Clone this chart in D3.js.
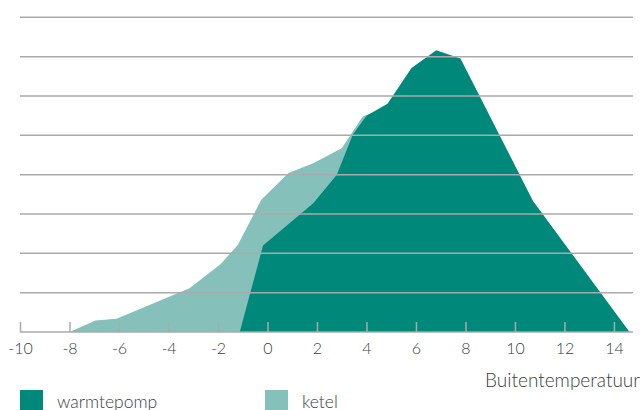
<!DOCTYPE html>
<html>
<head>
<meta charset="utf-8">
<script src="https://cdn.jsdelivr.net/npm/d3@7"></script>
<style>
  body { margin: 0; background: #fff; }
  text { font-family: Lato, "Open Sans", sans-serif; font-weight: 300; fill: #3c3c3c; }
</style>
</head>
<body>
<div id="chart"></div>
<script>
// temperature (°C) and relative share
var pumpTemp  = [-1.12, -0.18, 1.85, 2.8, 3.45, 4.0, 4.85, 5.82, 6.82, 7.8, 10.73, 14.63];
var pumpValue = [0, 2.2, 3.27, 4.0, 5.02, 5.5, 5.8, 6.71, 7.16, 6.95, 3.33, 0];

var boilerTemp  = [-8, -6.95, -6.1, -3.15, -1.9, -1.2, -0.25, 0.85, 1.85, 3.0, 3.85, 4.4, 4.85, 5.8, 6.8, 7.8, 10.7, 14.5];
var boilerValue = [0, 0.29, 0.34, 1.11, 1.72, 2.21, 3.36, 4.04, 4.29, 4.67, 5.48, 5.61, 5.75, 6.6, 7.0, 6.85, 3.25, 0];

var tickTemps = [-10, -8, -6, -4, -2, 0, 2, 4, 6, 8, 10, 12, 14];
var gridLevels = [1, 2, 3, 4, 5, 6, 7, 8];

var seriesNames = ["warmtepomp", "ketel"];
var colors = ["#00897b", "#85c1ba"];

var width = 642, height = 410;

var svg = d3.select("#chart").append("svg")
    .attr("width", width).attr("height", height);

var x = d3.scaleLinear().domain([-10, 14.77]).range([20, 633]);
var y = d3.scaleLinear().domain([0, 8]).range([332, 17.3]);

var area = d3.area()
    .x(function(d) { return x(d[0]); })
    .y0(y(0))
    .y1(function(d) { return y(d[1]); });

var boiler = d3.zip(boilerTemp, boilerValue);
var pump = d3.zip(pumpTemp, pumpValue);

svg.append("path").datum(boiler).attr("d", area).attr("fill", colors[1]);
svg.append("path").datum(pump).attr("d", area).attr("fill", colors[0]);

// horizontal grid, drawn over the areas
svg.selectAll(".grid").data(gridLevels).enter().append("line")
    .attr("x1", x.range()[0]).attr("x2", x.range()[1])
    .attr("y1", function(d) { return y(d); })
    .attr("y2", function(d) { return y(d); })
    .style("stroke", "#aaaaaa").style("stroke-width", 1.5);

var axis = d3.axisBottom(x).tickValues(tickTemps).tickSize(-10).tickPadding(11)
    .tickFormat(function(d) { return d; });

var gx = svg.append("g").attr("transform", "translate(0," + y(0) + ")").call(axis);
gx.select(".domain").remove();
gx.selectAll(".tick line").style("stroke", "#aaaaaa").style("stroke-width", 1.5);
gx.selectAll(".tick text").style("font-family", "Lato, sans-serif").style("font-size", "16px")
    .style("font-weight", 300).style("fill", "#3c3c3c");

gx.append("line").attr("x1", x.range()[0]).attr("x2", x.range()[1])
    .attr("y1", 0).attr("y2", 0)
    .style("stroke", "#aaaaaa").style("stroke-width", 1.5);

svg.append("text").text("Buitentemperatuur")
    .attr("x", 640).attr("y", 387).attr("text-anchor", "end")
    .attr("font-size", "19px");

// legend
var legendX = [20, 265];
seriesNames.forEach(function(name, i) {
  svg.append("rect").attr("x", legendX[i]).attr("y", 390)
      .attr("width", 23).attr("height", 23).style("fill", colors[i]);
  svg.append("text").text(name).attr("x", legendX[i] + 37).attr("y", 408)
      .attr("font-size", "17.5px");
});
</script>
</body>
</html>
